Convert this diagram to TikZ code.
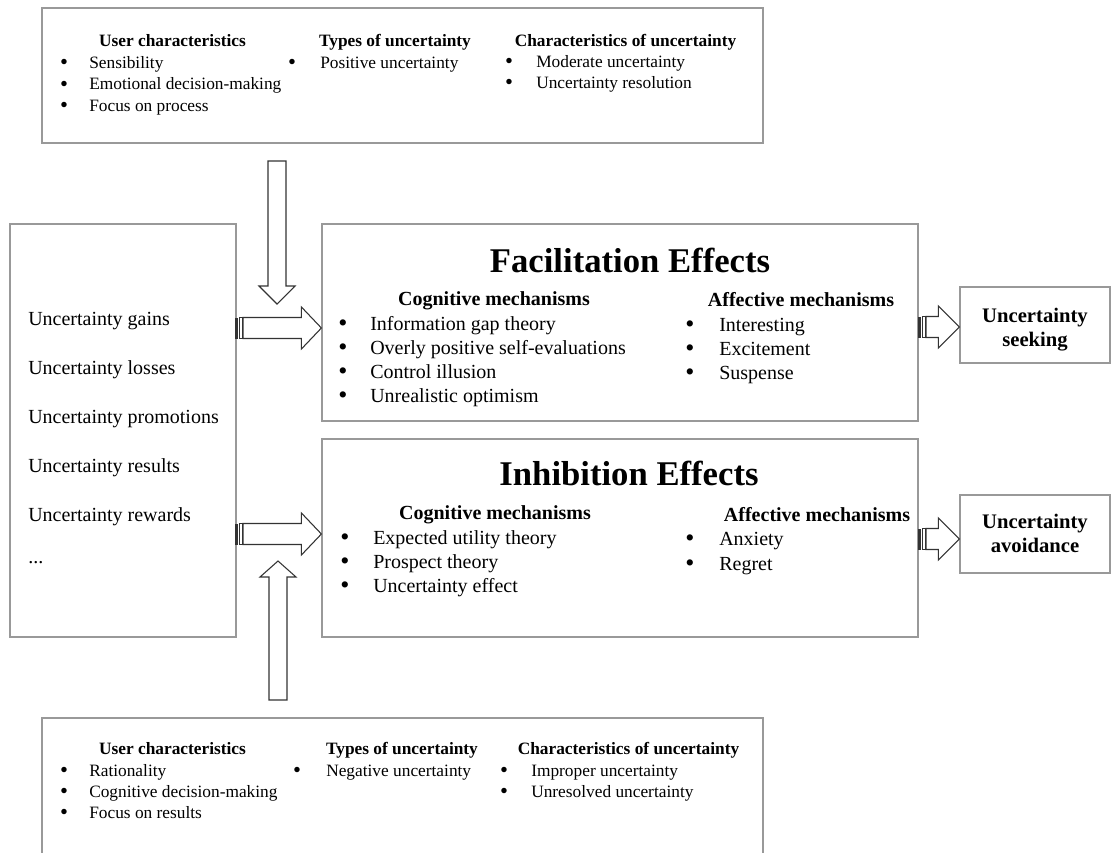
\documentclass[tikz,border=0pt]{standalone}
\usepackage{fontspec}
\setmainfont{Liberation Serif}
\usetikzlibrary{fit,calc}
\newcommand\fsmall{\fontsize{13}{15.6}\selectfont}
\newcommand\fmain{\fontsize{15}{18}\selectfont}
\newcommand\ftitle{\fontsize{26}{31}\selectfont\bfseries}
\newcommand\fend{\fontsize{15.5}{18}\selectfont\bfseries}
\tikzset{
  frame/.style={draw=black!40, line width=0.9pt, inner sep=0pt, fill=white},
  blockarrow/.style={draw=black!80, line width=0.8pt, fill=white, line join=miter},
  stripe/.style={draw=black!80, line width=0.6pt},
  hd/.style={anchor=base, inner sep=0pt, font=\fmain\bfseries},
  hds/.style={anchor=base, inner sep=0pt, font=\fsmall\bfseries},
  it/.style={anchor=base west, inner sep=0pt, font=\fmain},
  its/.style={anchor=base west, inner sep=0pt, font=\fsmall},
  bu/.style={anchor=base, inner sep=0pt, yshift=-0.9pt, font=\fontsize{19.5}{20}\selectfont},
  bus/.style={anchor=base, inner sep=0pt, yshift=-0.8pt, font=\fontsize{17}{18}\selectfont},
  ttl/.style={anchor=base, inner sep=0pt, font=\ftitle},
  endtxt/.style={align=center, inner sep=0pt, font=\fend},
}
\newcommand\harrow[3]{%
  \fill[black!80] ($(#1)+(0,-10.5)$) rectangle ($(#1)+(3.3,10.5)$);
  \draw[stripe] ($(#1)+(4.5,-10.5)$) rectangle ($(#1)+(7,10.5)$);
  \draw[blockarrow] ($(#1)+(8,-10.5)$) -- ($(#2)+(-#3,-10.5)$) -- ($(#2)+(-#3,-21)$) -- (#2)
    -- ($(#2)+(-#3,21)$) -- ($(#2)+(-#3,10.5)$) -- ($(#1)+(8,10.5)$) -- cycle;}
\newcommand\varrow[3]{%
  \draw[blockarrow] ($(#1)+(-9,0)$) -- ($(#2)+(-9,#3)$) -- ($(#2)+(-18,#3)$) -- (#2)
    -- ($(#2)+(18,#3)$) -- ($(#2)+(9,#3)$) -- ($(#1)+(9,0)$) -- cycle;}
\begin{document}
\begin{tikzpicture}[x=0.75pt,y=-0.75pt]
\clip (0,0) rectangle (1112,852);
\fill[white] (0,0) rectangle (1112,852);

% boxes
\node[frame, fit={(42,8)(763,143)}] (topbox) {};
\node[frame, fit={(42,718)(763,900)}] (botbox) {};
\node[frame, fit={(10,224)(236,637)}] (src) {};
\node[frame, fit={(322,224)(918,421)}] (fac) {};
\node[frame, fit={(322,439)(918,637)}] (inh) {};
\node[frame, fit={(960,287)(1110,363)}] (seek) {};
\node[frame, fit={(960,495)(1110,573)}] (avoid) {};

% top box
\node[hds] (tuh) at (172.5,46.5) {User characteristics};
\foreach \t [count=\i] in {Sensibility, Emotional decision-making, Focus on process}{
  \node[bus] (tub\i) at (64,{68.5+21.5*(\i-1)}) {\textbullet};
  \node[its] (tu\i) at (89,{68.5+21.5*(\i-1)}) {\t};}
\node[hds] (tth) at (395,46.5) {Types of uncertainty};
\node[bus] (ttb1) at (292,68.5) {\textbullet};
\node[its] (tt1) at (320,68.5) {Positive uncertainty};
\node[hds] (tch) at (625.5,46.5) {Characteristics of uncertainty};
\foreach \t [count=\i] in {Moderate uncertainty, Uncertainty resolution}{
  \node[bus] (tcb\i) at (509,{67.5+21*(\i-1)}) {\textbullet};
  \node[its] (tc\i) at (536,{67.5+21*(\i-1)}) {\t};}

% bottom box
\node[hds] (buh) at (172.5,754.5) {User characteristics};
\foreach \t [count=\i] in {Rationality, Cognitive decision-making, Focus on results}{
  \node[bus] (bub\i) at (64,{776.5+21*(\i-1)}) {\textbullet};
  \node[its] (bu\i) at (89,{776.5+21*(\i-1)}) {\t};}
\node[hds] (bth) at (402,754.5) {Types of uncertainty};
\node[bus] (btb1) at (297,776.5) {\textbullet};
\node[its] (bt1) at (326,776.5) {Negative uncertainty};
\node[hds] (bch) at (628.5,754.5) {Characteristics of uncertainty};
\foreach \t [count=\i] in {Improper uncertainty, Unresolved uncertainty}{
  \node[bus] (bcb\i) at (504,{776.5+21*(\i-1)}) {\textbullet};
  \node[its] (bc\i) at (531,{776.5+21*(\i-1)}) {\t};}

% source box
\foreach \t [count=\i] in {Uncertainty gains, Uncertainty losses, Uncertainty promotions, Uncertainty results, Uncertainty rewards}{
  \node[it] (s\i) at (28,{325+49*(\i-1)}) {\t};}
\node[it] (s6) at (28,563.5) {...};

% facilitation
\node[ttl] (facttl) at (630,272.5) {Facilitation Effects};
\node[hd] (fch) at (494,305) {Cognitive mechanisms};
\foreach \t [count=\i] in {Information gap theory, Overly positive self-evaluations, Control illusion, Unrealistic optimism}{
  \node[bu] (fcb\i) at (343,{330+24*(\i-1)}) {\textbullet};
  \node[it] (fc\i) at (370,{330+24*(\i-1)}) {\t};}
\node[hd] (fah) at (801,306) {Affective mechanisms};
\foreach \t [count=\i] in {Interesting, Excitement, Suspense}{
  \node[bu] (fab\i) at (690,{331+24*(\i-1)}) {\textbullet};
  \node[it] (fa\i) at (719,{331+24*(\i-1)}) {\t};}

% inhibition
\node[ttl] (inhttl) at (629,485) {Inhibition Effects};
\node[hd] (ich) at (495,519) {Cognitive mechanisms};
\foreach \t [count=\i] in {Expected utility theory, Prospect theory, Uncertainty effect}{
  \node[bu] (icb\i) at (345,{544+24*(\i-1)}) {\textbullet};
  \node[it] (ic\i) at (373,{544+24*(\i-1)}) {\t};}
\node[hd] (iah) at (817,521) {Affective mechanisms};
\foreach \t [count=\i] in {Anxiety, Regret}{
  \node[bu] (iab\i) at (690,{545+25*(\i-1)}) {\textbullet};
  \node[it] (ia\i) at (719,{545+25*(\i-1)}) {\t};}

% outcome boxes
\node[endtxt] (seektxt) at (1035,329.5) {Uncertainty\\seeking};
\node[endtxt] (avoidtxt) at (1035,533) {Uncertainty\\avoidance};

% arrows
\coordinate (d1t) at (277,161);
\coordinate (d1h) at (277,304);
\varrow{d1t}{d1h}{-18}
\coordinate (u1t) at (278,700);
\coordinate (u1h) at (278,561);
\varrow{u1t}{u1h}{16}
\coordinate (r1t) at (235,328);
\coordinate (r1h) at (fac.west |- r1t);
\harrow{r1t}{r1h}{20}
\coordinate (r2t) at (235,534);
\coordinate (r2h) at (inh.west |- r2t);
\harrow{r2t}{r2h}{20}
\coordinate (r3t) at (918,327);
\coordinate (r3h) at (seek.west |- r3t);
\harrow{r3t}{r3h}{21}
\coordinate (r4t) at (918,539);
\coordinate (r4h) at (avoid.west |- r4t);
\harrow{r4t}{r4h}{21}
\end{tikzpicture}
\end{document}
